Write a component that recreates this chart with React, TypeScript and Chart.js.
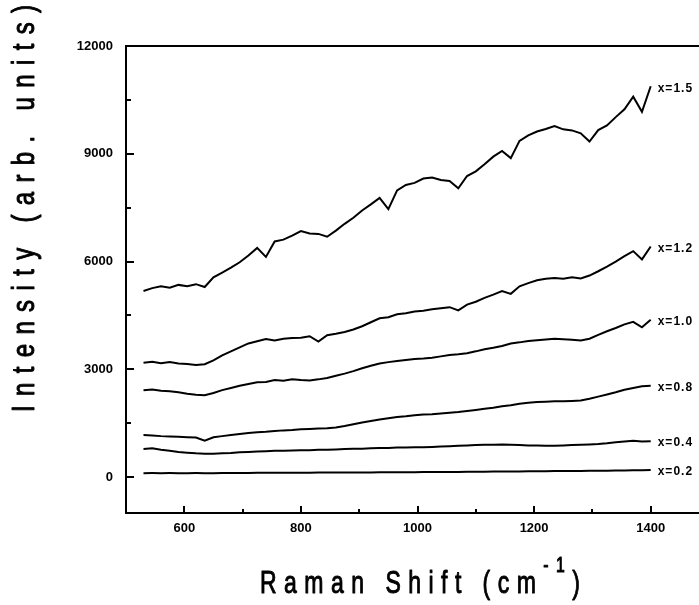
import { useEffect, useRef } from "react";
import { Chart, registerables } from "chart.js";

Chart.register(...registerables);

// Raman shift sampling positions (cm^-1)
const ramanShift = [
  530, 545, 560, 575, 590, 605, 620, 635, 650, 665,
  680, 695, 710, 725, 740, 755, 770, 785, 800, 815,
  830, 845, 860, 875, 890, 905, 920, 935, 950, 965,
  980, 995, 1010, 1025, 1040, 1055, 1070, 1085, 1100, 1115,
  1130, 1145, 1160, 1175, 1190, 1205, 1220, 1235, 1250, 1265,
  1280, 1295, 1310, 1325, 1340, 1355, 1370, 1385, 1400,
];

// Intensity (arb. units) for each composition
const intensityX15 = [
  5180, 5260, 5310, 5270, 5350, 5310, 5370, 5290, 5560, 5690,
  5830, 5980, 6170, 6380, 6130, 6560, 6610, 6720, 6850, 6780,
  6770, 6690, 6860, 7050, 7220, 7420, 7590, 7770, 7460, 7980,
  8130, 8190, 8310, 8340, 8270, 8240, 8040, 8380, 8510, 8710,
  8920, 9080, 8880, 9360, 9510, 9620, 9690, 9770, 9680, 9650,
  9570, 9340, 9660, 9790, 10020, 10240, 10590, 10170, 10880,
];
const intensityX12 = [
  3180, 3210, 3170, 3200, 3160, 3150, 3120, 3140, 3250, 3390,
  3500, 3610, 3720, 3780, 3840, 3800, 3850, 3870, 3880, 3920,
  3770, 3950, 3990, 4040, 4110, 4200, 4310, 4420, 4450, 4530,
  4560, 4610, 4630, 4670, 4700, 4730, 4640, 4800, 4880, 4990,
  5080, 5180, 5100, 5310, 5400, 5480, 5520, 5540, 5520, 5560,
  5530, 5610, 5730, 5860, 6000, 6150, 6290, 6060, 6420,
];
const intensityX10 = [
  2420, 2440, 2400, 2390, 2360, 2320, 2290, 2280, 2340, 2420,
  2480, 2540, 2590, 2640, 2650, 2700, 2680, 2720, 2700, 2690,
  2720, 2760, 2820, 2880, 2950, 3030, 3100, 3160, 3200, 3230,
  3260, 3290, 3300, 3320, 3360, 3400, 3420, 3450, 3500, 3560,
  3600, 3650, 3720, 3750, 3790, 3810, 3830, 3850, 3840, 3820,
  3800, 3850, 3960, 4060, 4150, 4250, 4320, 4170, 4380,
];
const intensityX08 = [
  1170, 1160, 1140, 1130, 1120, 1110, 1100, 1010, 1110, 1140,
  1170, 1200, 1230, 1250, 1260, 1280, 1300, 1310, 1330, 1340,
  1350, 1360, 1380, 1420, 1470, 1520, 1560, 1600, 1640, 1670,
  1690, 1720, 1740, 1750, 1770, 1790, 1810, 1840, 1870, 1900,
  1930, 1970, 2000, 2040, 2070, 2090, 2100, 2110, 2110, 2120,
  2130, 2180, 2240, 2300, 2360, 2430, 2480, 2530, 2540,
];
const intensityX04 = [
  780, 800, 760, 730, 700, 680, 660, 650, 650, 660,
  670, 690, 700, 710, 720, 730, 730, 740, 750, 750,
  760, 760, 770, 780, 790, 790, 800, 810, 810, 820,
  820, 830, 830, 840, 850, 860, 870, 880, 890, 900,
  900, 910, 900, 890, 880, 880, 870, 870, 880, 890,
  900, 910, 920, 940, 970, 990, 1010, 990, 1000,
];
const intensityX02 = [
  110, 112, 110, 111, 108, 110, 112, 109, 110, 113,
  114, 113, 116, 117, 118, 117, 120, 121, 122, 121,
  124, 125, 126, 125, 128, 129, 130, 131, 132, 134,
  134, 136, 138, 139, 140, 142, 144, 146, 148, 150,
  152, 154, 156, 158, 160, 162, 164, 166, 168, 170,
  172, 174, 176, 178, 180, 184, 188, 192, 196,
];

const seriesLabels = ["x=0.2", "x=0.4", "x=0.8", "x=1.0", "x=1.2", "x=1.5"];
const seriesValues = [intensityX02, intensityX04, intensityX08, intensityX10, intensityX12, intensityX15];

// Axis ticks
const xTicks = [600, 700, 800, 900, 1000, 1100, 1200, 1300, 1400];
const xLabelStep = 200;
const yTicks = [0, 1500, 3000, 4500, 6000, 7500, 9000, 10500, 12000];
const yLabelStep = 3000;

const FONT = '"Liberation Sans", Arial, sans-serif';

type Seg = { text: string; size: number; dy?: number };

// Draws horizontally condensed, slightly heavy text with even letter spacing over a given width
function drawSpaced(ctx: CanvasRenderingContext2D, segs: Seg[], x0: number, base: number, width: number, sx: number) {
  let natural = 0;
  let n = 0;
  for (const s of segs) {
    ctx.font = `${s.size}px ${FONT}`;
    for (const ch of s.text) {
      natural += ctx.measureText(ch).width * sx;
      n++;
    }
  }
  const gap = n > 1 ? (width - natural) / (n - 1) : 0;
  let x = x0;
  ctx.lineWidth = 1;
  ctx.lineJoin = "round";
  for (const s of segs) {
    ctx.font = `${s.size}px ${FONT}`;
    for (const ch of s.text) {
      const w = ctx.measureText(ch).width * sx;
      ctx.save();
      ctx.translate(x, base + (s.dy || 0));
      ctx.scale(sx, 1);
      ctx.fillText(ch, 0, 0);
      ctx.strokeText(ch, 0, 0);
      ctx.restore();
      x += w + gap;
    }
  }
}

const framePlugin = {
  id: "frameAndLabels",
  afterDraw(chart: any) {
    const { ctx, chartArea, scales } = chart;
    const xs = scales.x;
    const ys = scales.y;
    ctx.save();
    ctx.strokeStyle = "#000";
    ctx.fillStyle = "#000";
    ctx.lineWidth = 2;

    // top frame line
    ctx.beginPath();
    ctx.moveTo(chartArea.left - 1, chartArea.top);
    ctx.lineTo(chart.width, chartArea.top);
    ctx.stroke();

    // inward tick marks
    ctx.beginPath();
    for (const v of yTicks) {
      const y = Math.round(ys.getPixelForValue(v));
      const len = v % yLabelStep === 0 ? 8 : 5;
      ctx.moveTo(chartArea.left, y);
      ctx.lineTo(chartArea.left + len, y);
    }
    for (const v of xTicks) {
      const x = Math.round(xs.getPixelForValue(v));
      const len = v % xLabelStep === 0 ? 7 : 4;
      ctx.moveTo(x, chartArea.bottom);
      ctx.lineTo(x, chartArea.bottom - len);
    }
    ctx.stroke();

    // composition labels at the end of each trace
    ctx.font = `bold 12px ${FONT}`;
    (ctx as any).letterSpacing = "1px";
    ctx.textBaseline = "middle";
    ctx.textAlign = "left";
    seriesValues.forEach((vals, i) => {
      const lastX = ramanShift[ramanShift.length - 1];
      const lastY = vals[vals.length - 1];
      const px = xs.getPixelForValue(lastX) + 7;
      const py = ys.getPixelForValue(lastY) + 2;
      ctx.fillText(seriesLabels[i], px, py);
    });
    (ctx as any).letterSpacing = "0px";

    // axis titles
    ctx.textBaseline = "alphabetic";
    drawSpaced(
      ctx,
      [
        { text: "Raman Shift (cm", size: 32 },
        { text: "-1", size: 22, dy: -21 },
        { text: ")", size: 32 },
      ],
      260,
      593,
      320,
      0.72
    );
    ctx.save();
    ctx.translate(34, 412);
    ctx.rotate(-Math.PI / 2);
    drawSpaced(ctx, [{ text: "Intensity (arb. units)", size: 32 }], 0, 0, 407, 0.75);
    ctx.restore();

    ctx.restore();
  },
};

export default function App() {
  const ref = useRef<HTMLCanvasElement>(null);

  useEffect(() => {
    const canvas = ref.current;
    if (!canvas) return;
    const chart = new Chart(canvas, {
      type: "line",
      data: {
        datasets: seriesValues.map((vals, i) => ({
          label: seriesLabels[i],
          data: ramanShift.map((x, j) => ({ x, y: vals[j] })),
          borderColor: "#000",
          borderWidth: 2,
          pointRadius: 0,
          tension: 0,
          fill: false,
        })),
      },
      options: {
        responsive: false,
        animation: false,
        devicePixelRatio: 1,
        layout: { padding: { top: 46, right: 31, left: 0, bottom: 0 } },
        plugins: { legend: { display: false }, tooltip: { enabled: false } },
        scales: {
          x: {
            type: "linear",
            min: 500,
            max: 1500,
            grid: { display: false, drawTicks: false },
            border: { display: true, color: "#000", width: 2 },
            afterBuildTicks: (scale: any) => {
              scale.ticks = xTicks.map((v) => ({ value: v }));
            },
            afterFit: (scale: any) => {
              scale.height = 92;
            },
            ticks: {
              autoSkip: false,
              maxRotation: 0,
              padding: 8,
              color: "#000",
              font: { family: FONT, size: 13, weight: "bold" },
              callback: (v: any) => (Number(v) % xLabelStep === 0 ? String(v) : ""),
            },
          },
          y: {
            type: "linear",
            min: -1000,
            max: 12000,
            grid: { display: false, drawTicks: false },
            border: { display: true, color: "#000", width: 2 },
            afterBuildTicks: (scale: any) => {
              scale.ticks = yTicks.map((v) => ({ value: v }));
            },
            afterFit: (scale: any) => {
              scale.width = 126;
            },
            ticks: {
              autoSkip: false,
              padding: 13,
              color: "#000",
              font: { family: FONT, size: 13, weight: "bold" },
              callback: (v: any) => (Number(v) % yLabelStep === 0 ? String(v) : ""),
            },
          },
        },
      },
      plugins: [framePlugin],
    });
    return () => chart.destroy();
  }, []);

  return (
    <div
      style={{
        position: "fixed",
        left: 0,
        top: 0,
        width: 699,
        height: 605,
        overflow: "hidden",
        background: "#fff",
      }}
    >
      <canvas ref={ref} width={740} height={605} style={{ display: "block", width: 740, height: 605 }} />
    </div>
  );
}
